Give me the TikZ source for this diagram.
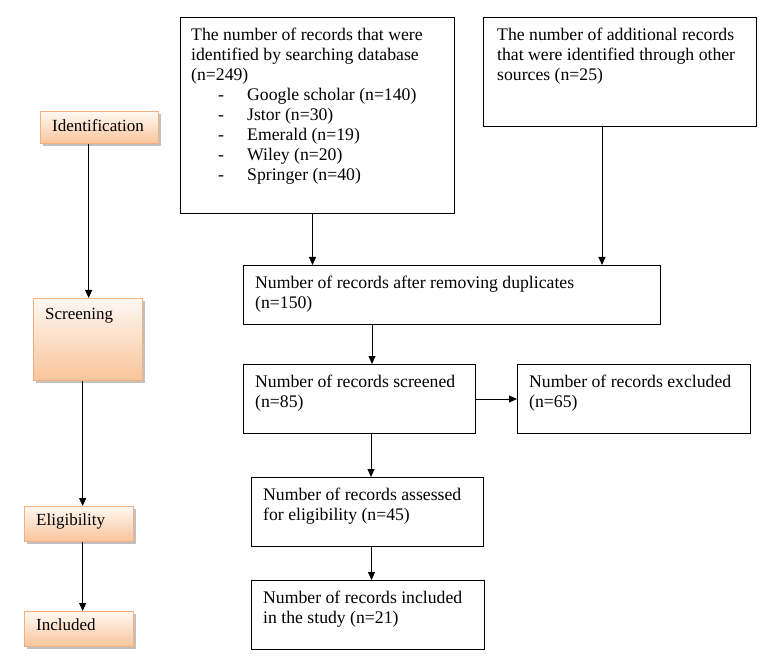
\documentclass[tikz,border=0pt]{standalone}
\usepackage{fontspec}
\setmainfont{Liberation Serif}
\usetikzlibrary{arrows.meta,shadows}
\definecolor{peachD}{HTML}{FAC49A}
\definecolor{peachB}{HTML}{F5B07F}
\definecolor{peachL}{HTML}{FFF8F2}
\tikzset{
  box/.style={draw=black, line width=1pt, rectangle, inner sep=0pt, anchor=north west},
  stage/.style={draw=peachB, line width=1.3pt, rectangle, inner sep=0pt, anchor=north west,
    top color=peachL, bottom color=peachD,
    drop shadow={shadow xshift=2.5pt, shadow yshift=-2.5pt, fill=black!30, opacity=0.8}},
  txt/.style={anchor=north west, inner sep=0pt, align=left, font=\fontsize{17.7}{20}\selectfont},
  stxt/.style={anchor=north west, inner sep=0pt, align=left, font=\fontsize{17}{20}\selectfont},
  arr/.style={line width=1pt, -{Triangle[length=8pt,width=7pt]}},
}
\newcommand{\bul}[1]{\hspace*{27pt}\makebox[29pt][l]{-}#1}
\begin{document}
\begin{tikzpicture}[x=1pt,y=-1pt]
\useasboundingbox[fill=white] (0,0) rectangle (761,663);
% left stages
\node[stage, minimum width=118pt, minimum height=32pt] (s1) at (40,111) {};
\node[stage, minimum width=109pt, minimum height=82pt] (s2) at (33,298) {};
\node[stage, minimum width=109pt, minimum height=35pt] (s3) at (24,506) {};
\node[stage, minimum width=109pt, minimum height=35pt] (s4) at (24,611) {};
\node[stxt] (s1t) at (52,119) {Identification};
\node[stxt] (s2t) at (45,308) {Screening};
\node[stxt] (s3t) at (36,514) {Eligibility};
\node[stxt] (s4t) at (36,619) {Included};
% right boxes
\node[box, minimum width=274pt, minimum height=196pt] (b1) at (180,17) {};
\node[box, minimum width=273pt, minimum height=109pt] (b2) at (483,17) {};
\node[box, minimum width=417pt, minimum height=59pt] (b3) at (243,265) {};
\node[box, minimum width=232pt, minimum height=69pt] (b4) at (243,364) {};
\node[box, minimum width=233pt, minimum height=69pt] (b5) at (517,364) {};
\node[box, minimum width=232pt, minimum height=69pt] (b6) at (251,477) {};
\node[box, minimum width=233pt, minimum height=69pt] (b7) at (251,580) {};
\node[txt] (b1t) at (191,27.5) {The number of records that were\\identified by searching database\\(n=249)\\
\bul{Google scholar (n=140)}\\\bul{Jstor (n=30)}\\\bul{Emerald (n=19)}\\\bul{Wiley (n=20)}\\\bul{Springer (n=40)}};
\node[txt] (b2t) at (497,27.5) {The number of additional records\\that were identified through other\\sources (n=25)};
\node[txt] (b3t) at (255,275.5) {Number of records after removing duplicates\\(n=150)};
\node[txt] (b4t) at (255,374.5) {Number of records screened\\(n=85)};
\node[txt] (b5t) at (529,374.5) {Number of records excluded\\(n=65)};
\node[txt] (b6t) at (263,487.5) {Number of records assessed\\for eligibility (n=45)};
\node[txt] (b7t) at (263,590.5) {Number of records included\\in the study (n=21)};
% connectors
\coordinate (a1) at ([xshift=-5pt]b1.south);
\draw[arr] (a1) -- (a1 |- b3.north);
\coordinate (a2) at ([xshift=-18pt]b2.south);
\draw[arr] (a2) -- (a2 |- b3.north);
\coordinate (a3) at ([xshift=-80pt]b3.south);
\draw[arr] (a3) -- (a3 |- b4.north);
\draw[arr] (b4.east) -- (b5.west);
\coordinate (a4) at ([xshift=11.5pt]b4.south);
\draw[arr] (a4) -- (a4 |- b6.north);
\coordinate (a5) at ([xshift=4pt]b6.south);
\draw[arr] (a5) -- (a5 |- b7.north);
\coordinate (l1) at ([xshift=-11pt]s1.south);
\draw[arr] (l1) -- (l1 |- s2.north);
\coordinate (l2) at ([xshift=-5.5pt]s2.south);
\draw[arr] (l2) -- (l2 |- s3.north);
\coordinate (l3) at ([xshift=3.5pt]s3.south);
\draw[arr] (l3) -- (l3 |- s4.north);
\end{tikzpicture}
\end{document}
